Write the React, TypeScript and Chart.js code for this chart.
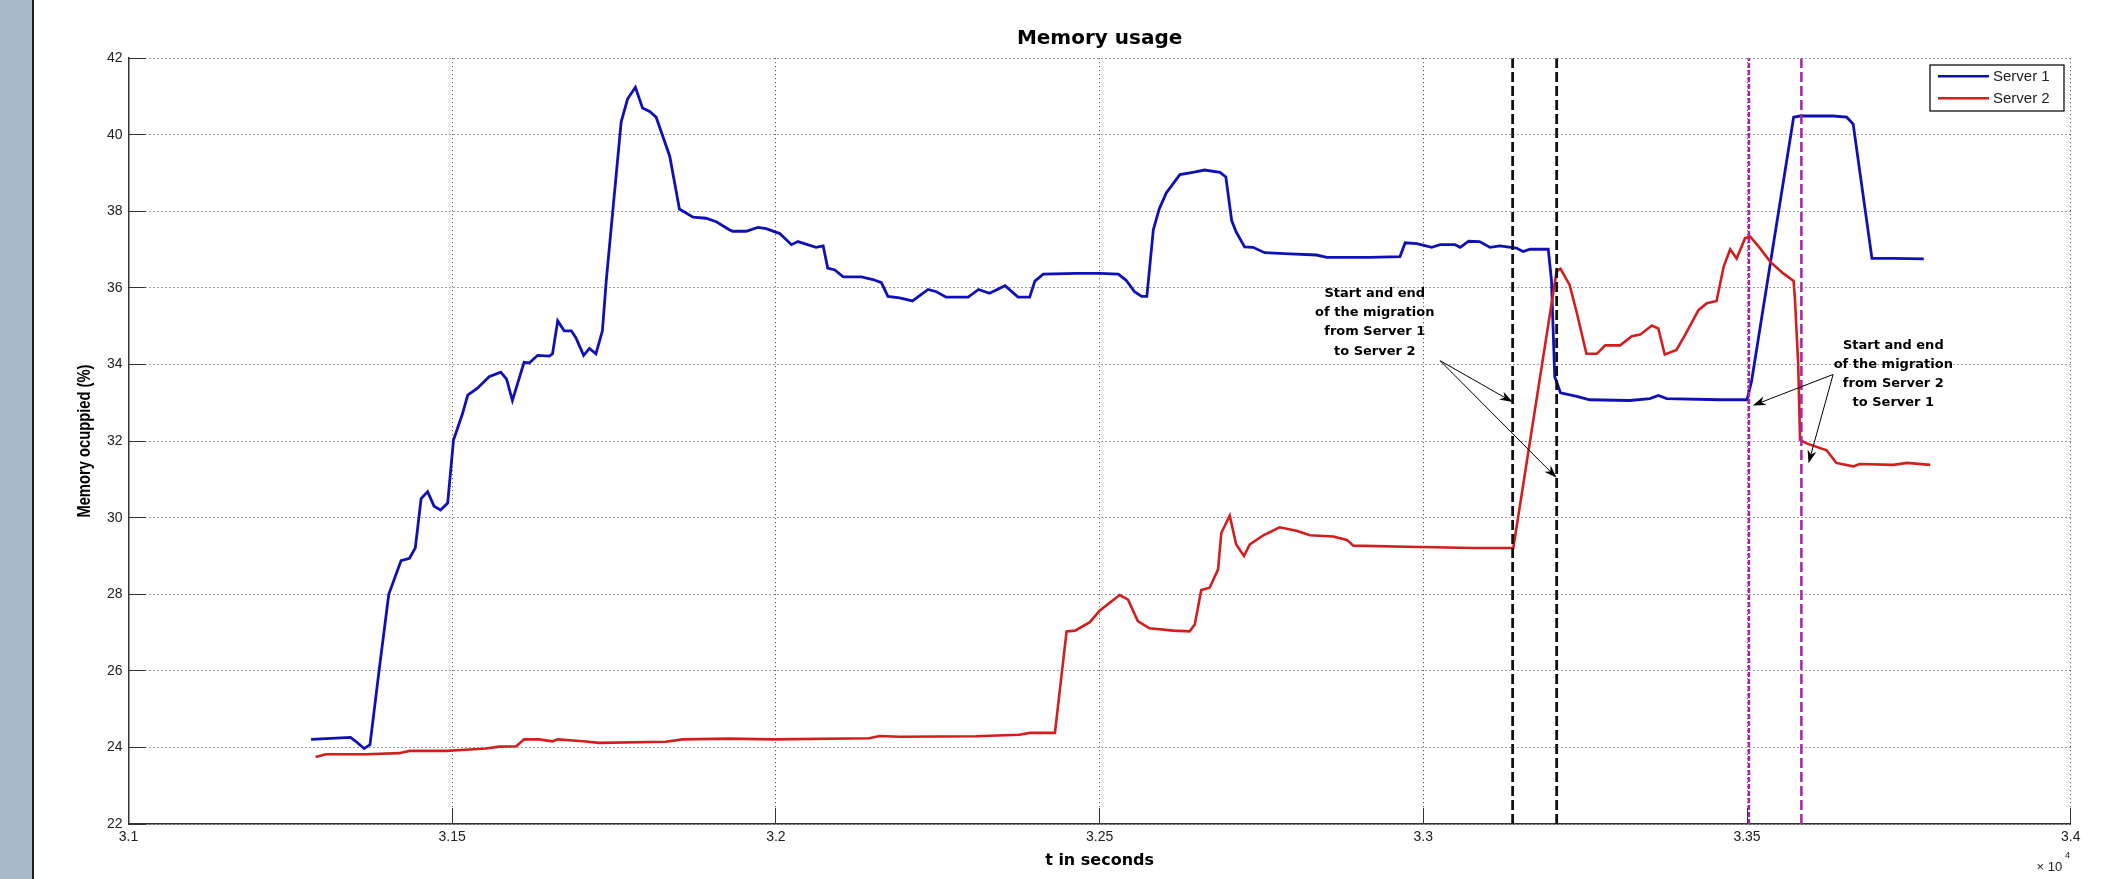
import React, { useEffect, useRef } from "react";
import { Chart, registerables } from "chart.js";

Chart.register(...registerables);

// ---- data (time in units of 10^4 s, memory in %) ----
const server1Time = [
  3.1282, 3.1343, 3.1351, 3.1364, 3.1373, 3.1387, 3.1402, 3.1421, 3.1434, 3.1443,
  3.1452, 3.1462, 3.1472, 3.1482, 3.1493, 3.1502, 3.1516, 3.1524, 3.1539, 3.1557,
  3.1575, 3.1584, 3.1593, 3.1611, 3.1619, 3.1632, 3.165, 3.1655, 3.1663, 3.1673,
  3.1684, 3.1691, 3.1703, 3.1712, 3.1722, 3.1732, 3.1738, 3.1748, 3.1761, 3.1771,
  3.1783, 3.1794, 3.1805, 3.1815, 3.1836, 3.1851, 3.1872, 3.1892, 3.1908, 3.1928,
  3.1933, 3.1954, 3.1972, 3.1985, 3.2006, 3.2024, 3.2034, 3.2062, 3.2073, 3.208,
  3.2091, 3.2104, 3.2132, 3.215, 3.2163, 3.2173, 3.2191, 3.2211, 3.2235, 3.2248,
  3.2263, 3.2297, 3.2313, 3.233, 3.2354, 3.2374, 3.2392, 3.24, 3.2413, 3.2464,
  3.25, 3.2529, 3.2541, 3.2554, 3.2565, 3.2573, 3.2583, 3.2592, 3.2603, 3.2624,
  3.2644, 3.2662, 3.2686, 3.2695, 3.2704, 3.2711, 3.2724, 3.2737, 3.2755, 3.2794,
  3.2835, 3.2851, 3.2917, 3.2964, 3.2972, 3.299, 3.3013, 3.3026, 3.3049, 3.3057,
  3.307, 3.3087, 3.3103, 3.3118, 3.3144, 3.3154, 3.3165, 3.3193, 3.3198, 3.3203,
  3.3212, 3.3237, 3.3257, 3.3319, 3.335, 3.3363, 3.3376, 3.3458, 3.35, 3.3507,
  3.3572, 3.3582, 3.3633, 3.3654, 3.3664, 3.3693, 3.3726, 3.3773,
];
const server1Mem = [
  24.21, 24.26, 24.16, 23.97, 24.07, 26.0, 28.0, 28.88, 28.94, 29.21,
  30.5, 30.68, 30.3, 30.2, 30.38, 32.03, 32.72, 33.2, 33.38, 33.68,
  33.8, 33.62, 33.06, 34.06, 34.04, 34.24, 34.22, 34.28, 35.14, 34.88,
  34.88, 34.7, 34.24, 34.42, 34.28, 34.88, 36.2, 38.0, 40.34, 40.94,
  41.24, 40.7, 40.61, 40.46, 39.44, 38.06, 37.85, 37.82, 37.73, 37.52,
  37.48, 37.48, 37.58, 37.55, 37.42, 37.13, 37.21, 37.06, 37.1, 36.52,
  36.47, 36.29, 36.29, 36.22, 36.14, 35.78, 35.74, 35.66, 35.96, 35.9,
  35.76, 35.76, 35.96, 35.86, 36.06, 35.76, 35.76, 36.18, 36.36, 36.38,
  36.38, 36.36, 36.2, 35.9, 35.78, 35.78, 37.52, 38.06, 38.48, 38.96,
  39.02, 39.08, 39.02, 38.9, 37.76, 37.46, 37.07, 37.06, 36.92, 36.89,
  36.86, 36.8, 36.8, 36.82, 37.18, 37.16, 37.06, 37.13, 37.13, 37.06,
  37.22, 37.21, 37.06, 37.1, 37.04, 36.95, 37.01, 37.01, 36.2, 33.68,
  33.26, 33.17, 33.08, 33.06, 33.11, 33.19, 33.11, 33.08, 33.08, 33.56,
  40.46, 40.49, 40.49, 40.46, 40.28, 36.77, 36.77, 36.76,
];

const server2Time = [
  3.1289, 3.1305, 3.1367, 3.1418, 3.1434, 3.149, 3.1521, 3.1552, 3.1573, 3.1599,
  3.1611, 3.1634, 3.1655, 3.1663, 3.1702, 3.1727, 3.183, 3.1856, 3.1928, 3.1995,
  3.2144, 3.216, 3.2191, 3.2309, 3.2376, 3.2392, 3.2431, 3.2449, 3.2462, 3.2485,
  3.25, 3.2531, 3.2544, 3.2559, 3.2577, 3.2614, 3.2639, 3.2647, 3.2657, 3.267,
  3.2683, 3.2688, 3.2701, 3.2711, 3.2723, 3.2732, 3.2753, 3.2778, 3.2804, 3.2825,
  3.2861, 3.2882, 3.2892, 3.2974, 3.3077, 3.3139, 3.3206, 3.3212, 3.3226, 3.3237,
  3.3252, 3.3268, 3.3281, 3.3304, 3.3322, 3.3335, 3.3353, 3.3363, 3.3373, 3.3391,
  3.3404, 3.3425, 3.3438, 3.3453, 3.3464, 3.3474, 3.3484, 3.3497, 3.3505, 3.352,
  3.3536, 3.3556, 3.3572, 3.3574, 3.3579, 3.3582, 3.3592, 3.3623, 3.3638, 3.3664,
  3.3674, 3.3726, 3.3747, 3.3783,
];
const server2Mem = [
  23.75, 23.82, 23.82, 23.85, 23.91, 23.91, 23.94, 23.97, 24.02, 24.03,
  24.21, 24.21, 24.16, 24.21, 24.16, 24.12, 24.15, 24.21, 24.23, 24.21,
  24.24, 24.3, 24.28, 24.29, 24.33, 24.38, 24.38, 27.03, 27.05, 27.27,
  27.57, 27.98, 27.86, 27.3, 27.11, 27.05, 27.03, 27.21, 28.11, 28.17,
  28.65, 29.6, 30.05, 29.3, 29.0, 29.3, 29.54, 29.75, 29.66, 29.54,
  29.51, 29.42, 29.27, 29.24, 29.21, 29.21, 36.44, 36.5, 36.08, 35.36,
  34.28, 34.28, 34.5, 34.5, 34.74, 34.78, 35.02, 34.94, 34.26, 34.38,
  34.76, 35.42, 35.6, 35.66, 36.56, 37.01, 36.77, 37.3, 37.34, 37.04,
  36.68, 36.38, 36.18, 35.72, 34.04, 32.03, 31.94, 31.76, 31.43, 31.34,
  31.4, 31.38, 31.43, 31.38,
];

const seriesLabels = ["Server 1", "Server 2"];

const xTickValues = [3.1, 3.15, 3.2, 3.25, 3.3, 3.35, 3.4];
const yTickValues = [22, 24, 26, 28, 30, 32, 34, 36, 38, 40, 42];

// start/end of the two migrations (vertical dashed markers)
const migrationMarkerTimes = [3.3138, 3.3206, 3.3503, 3.3584];

// annotations
const annotationText = [
  ["Start and end", "of the migration", "from Server 1", "to Server 2"],
  ["Start and end", "of the migration", "from Server 2", "to Server 1"],
];
const annotationTextTime = [3.2925, 3.3726];
const annotationTextMem = [35.86, 34.505];
const arrowTailTime = [3.3026, 3.3633];
const arrowTailMem = [34.1, 33.74];
const arrowTipTime = [3.3138, 3.3206, 3.3509, 3.3595];
const arrowTipMem = [33.02, 31.04, 32.93, 31.42];
const arrowGroup = [0, 0, 1, 1];

const BLUE = "#1010b8";
const RED = "#d41e1e";
const TEXT = "#222222";

export default function App() {
  const ref = useRef<HTMLCanvasElement>(null);

  useEffect(() => {
    const canvas = ref.current;
    if (!canvas) return;
    const toPts = (xs: number[], ys: number[]) => xs.map((x, i) => ({ x, y: ys[i] }));
    const yMin = yTickValues[0];
    const yMax = yTickValues[yTickValues.length - 1];

    const markerStyles = [
      { color: "#111111", dash: [10, 4], width: 2.8 },
      { color: "#111111", dash: [10, 4], width: 2.8 },
      { color: "#a822b0", dash: [5, 2], width: 2.5 },
      { color: "#a822b0", dash: [10, 4], width: 2.5 },
    ];
    const markerSets = migrationMarkerTimes.map((t, i) => ({
      label: "",
      data: [
        { x: t, y: yMin },
        { x: t, y: yMax },
      ],
      borderColor: markerStyles[i].color,
      borderDash: markerStyles[i].dash,
      borderWidth: markerStyles[i].width,
      pointRadius: 0,
      fill: false,
      order: 0,
    }));

    const overlay = {
      id: "matlabOverlay",
      afterDraw(chart: any) {
        const { ctx, chartArea: a, scales } = chart;
        const xs = scales.x;
        const ys = scales.y;
        ctx.save();

        // inward tick marks
        ctx.strokeStyle = "#333";
        ctx.lineWidth = 1;
        ctx.setLineDash([]);
        ctx.beginPath();
        yTickValues.forEach((v) => {
          const py = Math.round(ys.getPixelForValue(v) - 0.5) + 0.5;
          ctx.moveTo(a.left, py);
          ctx.lineTo(a.left + 17, py);
        });
        xTickValues.forEach((v) => {
          const px = Math.round(xs.getPixelForValue(v) - 0.5) + 0.5;
          ctx.moveTo(px, a.bottom);
          ctx.lineTo(px, a.bottom - 16);
        });
        ctx.stroke();

        // annotation texts
        ctx.fillStyle = "#000";
        ctx.font = "bold 13px 'DejaVu Sans'";
        ctx.textAlign = "center";
        ctx.textBaseline = "middle";
        annotationText.forEach((lines, i) => {
          const cx = xs.getPixelForValue(annotationTextTime[i]);
          const cy = ys.getPixelForValue(annotationTextMem[i]);
          lines.forEach((ln, k) => ctx.fillText(ln, cx, cy + k * 19.3));
        });

        // arrows
        arrowTipTime.forEach((tt, j) => {
          const g = arrowGroup[j];
          const x0 = xs.getPixelForValue(arrowTailTime[g]);
          const y0 = ys.getPixelForValue(arrowTailMem[g]);
          const x1 = xs.getPixelForValue(tt);
          const y1 = ys.getPixelForValue(arrowTipMem[j]);
          const ang = Math.atan2(y1 - y0, x1 - x0);
          const L = 13;
          const W = 4.5;
          const cos = Math.cos(ang);
          const sin = Math.sin(ang);
          ctx.strokeStyle = "#000";
          ctx.lineWidth = 1;
          ctx.beginPath();
          ctx.moveTo(x0, y0);
          ctx.lineTo(x1 - cos * 6, y1 - sin * 6);
          ctx.stroke();
          ctx.fillStyle = "#000";
          ctx.beginPath();
          ctx.moveTo(x1, y1);
          ctx.lineTo(x1 - cos * L - sin * W, y1 - sin * L + cos * W);
          ctx.lineTo(x1 - cos * L * 0.7, y1 - sin * L * 0.7);
          ctx.lineTo(x1 - cos * L + sin * W, y1 - sin * L - cos * W);
          ctx.closePath();
          ctx.fill();
        });

        // legend box
        const bw = 134;
        const bh = 46;
        const bl = a.right - 6.7 - bw;
        const bt = a.top + 6.8;
        ctx.fillStyle = "#fff";
        ctx.fillRect(bl, bt, bw, bh);
        ctx.strokeStyle = "#111";
        ctx.lineWidth = 1.3;
        ctx.strokeRect(bl, bt, bw, bh);
        const colors = [BLUE, RED];
        seriesLabels.forEach((lab, i) => {
          const ry = bt + 11.3 + i * 22;
          ctx.strokeStyle = colors[i];
          ctx.lineWidth = 2.5;
          ctx.beginPath();
          ctx.moveTo(bl + 8, ry);
          ctx.lineTo(bl + 59, ry);
          ctx.stroke();
          ctx.fillStyle = TEXT;
          ctx.font = "15px 'Liberation Sans'";
          ctx.textAlign = "left";
          ctx.textBaseline = "middle";
          ctx.fillText(lab, bl + 63, ry + 1);
        });

        // x10^4 exponent label
        ctx.fillStyle = TEXT;
        ctx.font = "13px 'Liberation Sans'";
        ctx.textAlign = "right";
        ctx.textBaseline = "middle";
        ctx.fillText("\u00d7 10", a.right - 8.5, a.bottom + 43);
        ctx.font = "9px 'Liberation Sans'";
        ctx.textAlign = "center";
        ctx.fillText("4", a.right - 3.2, a.bottom + 31.5);

        // y axis title (narrow bold)
        ctx.save();
        ctx.translate(a.left - 44, (a.top + a.bottom) / 2);
        ctx.rotate(-Math.PI / 2);
        ctx.fillStyle = "#000";
        ctx.font = "bold 19px 'Liberation Sans'";
        ctx.textAlign = "center";
        ctx.textBaseline = "middle";
        ctx.fillText("Memory ocuppied (%)", 0, 0, 153);
        ctx.restore();

        ctx.restore();
      },
    };

    const tickFont = { family: "'Liberation Sans', Arial, sans-serif", size: 14 };

    const chart = new Chart(canvas, {
      type: "line",
      data: {
        datasets: [
          {
            label: seriesLabels[0],
            data: toPts(server1Time, server1Mem),
            borderColor: BLUE,
            borderWidth: 2.8,
            pointRadius: 0,
            tension: 0,
            fill: false,
            order: 2,
          },
          {
            label: seriesLabels[1],
            data: toPts(server2Time, server2Mem),
            borderColor: RED,
            borderWidth: 2.6,
            pointRadius: 0,
            tension: 0,
            fill: false,
            order: 1,
          },
          ...markerSets,
        ] as any,
      },
      options: {
        responsive: false,
        animation: false,
        devicePixelRatio: 1,
        events: [],
        layout: { padding: { left: 0, right: 39.3, top: 0, bottom: 0 } },
        plugins: {
          legend: { display: false },
          tooltip: { enabled: false },
          title: {
            display: true,
            text: "Memory usage",
            fullSize: false,
            color: "#000",
            font: { family: "'DejaVu Sans'", size: 20, weight: "bold" },
            padding: { top: 27, bottom: 7.2 },
          },
        },
        scales: {
          x: {
            type: "linear",
            position: "bottom",
            min: 3.1,
            max: 3.4,
            afterBuildTicks: (scale: any) => {
              scale.ticks = xTickValues.map((v) => ({ value: v }));
            },
            afterFit: (scale: any) => {
              scale.height = 55;
            },
            ticks: {
              font: tickFont,
              color: TEXT,
              padding: 5,
              maxRotation: 0,
              autoSkip: false,
              callback: (v: any) => String(Math.round(Number(v) * 100) / 100),
            },
            grid: { color: "#3c3c3c", lineWidth: 1, drawTicks: false },
            border: { display: true, color: "#333", width: 1.5, dash: [1, 3] },
            title: {
              display: true,
              text: "t in seconds",
              color: "#000",
              font: { family: "'DejaVu Sans'", size: 16, weight: "bold" },
              padding: { top: 0, bottom: 9 },
            },
          },
          y: {
            type: "linear",
            min: yMin,
            max: yMax,
            afterBuildTicks: (scale: any) => {
              scale.ticks = yTickValues.map((v) => ({ value: v }));
            },
            afterFit: (scale: any) => {
              scale.width = 128.5;
            },
            ticks: {
              font: tickFont,
              color: TEXT,
              padding: 6,
              autoSkip: false,
              callback: (v: any) => String(v),
            },
            grid: { color: "#3c3c3c", lineWidth: 1, drawTicks: false },
            border: { display: true, color: "#333", width: 1.5, dash: [1, 3] },
            title: { display: false },
          },
        },
      } as any,
      plugins: [overlay],
    });

    return () => chart.destroy();
  }, []);

  return (
    <div
      style={{
        position: "fixed",
        left: 0,
        top: 0,
        width: 2110,
        height: 879,
        background: "#fff",
        overflow: "hidden",
      }}
    >
      <canvas
        ref={ref}
        width={2110}
        height={879}
        style={{ position: "absolute", left: 0, top: 0, width: 2110, height: 879 }}
      />
      <div
        style={{
          position: "absolute",
          left: 0,
          top: 0,
          width: 31.5,
          height: 879,
          background: "#a8b8c7",
          borderRight: "2.5px solid #1e1e1e",
        }}
      />
    </div>
  );
}
